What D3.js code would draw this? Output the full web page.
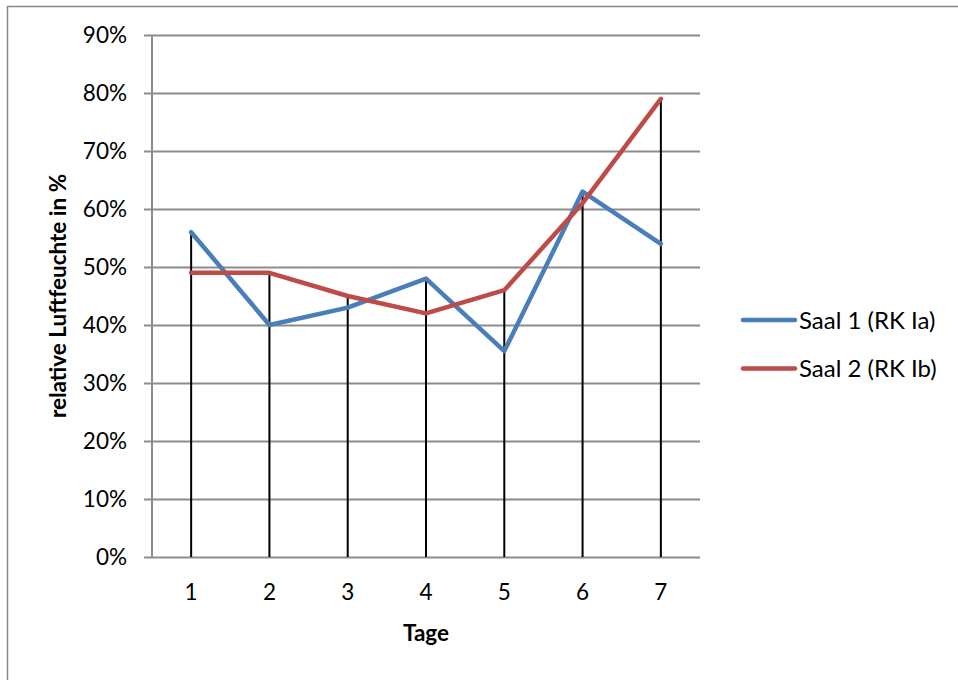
<!DOCTYPE html>
<html><head><meta charset="utf-8">
<script src="https://cdn.jsdelivr.net/npm/d3@7"></script>
<style>body{margin:0;background:#fff}svg{display:block}text{font-family:Lato,"Open Sans",sans-serif}</style>
</head><body><svg id="c" width="958" height="680"></svg>
<script>
const categories = ["1","2","3","4","5","6","7"];
const saal1 = [0.56, 0.40, 0.43, 0.48, 0.355, 0.63, 0.54];
const saal2 = [0.49, 0.49, 0.45, 0.42, 0.46, 0.61, 0.79];
const seriesNames = ["Saal 1 (RK Ia)", "Saal 2 (RK Ib)"];
const seriesColors = ["#4a7ebb", "#be4b48"];
const yTicks = [0,0.1,0.2,0.3,0.4,0.5,0.6,0.7,0.8,0.9];

const svg = d3.select("#c");
svg.append("rect").attr("x",7.5).attr("y",6.5).attr("width",1000).attr("height",1000)
  .attr("fill","none").attr("stroke","#868686").attr("stroke-width",1.5);

const L=152,R=700,T=35,B=557;
const x = d3.scaleBand().domain(categories).range([L,R]);
const y = d3.scaleLinear().domain([0,0.9]).range([B,T]);
const grid="#8c8c8c";

svg.append("g").selectAll("line").data(yTicks).join("line")
  .attr("x1",L-8).attr("x2",R).attr("y1",d=>Math.round(y(d))+0.5).attr("y2",d=>Math.round(y(d))+0.5)
  .attr("stroke",grid).attr("stroke-width",2);
svg.append("line").attr("x1",L).attr("x2",L).attr("y1",T).attr("y2",B).attr("stroke",grid).attr("stroke-width",2);

svg.append("g").selectAll("text").data(yTicks).join("text")
  .attr("x",127).attr("y",d=>y(d)).attr("dy","0.36em").attr("text-anchor","end")
  .attr("font-size",22.5).attr("fill","#000").text(d3.format(".0%"));
const cx = c => x(c)+x.bandwidth()/2;
svg.append("g").selectAll("text").data(categories).join("text")
  .attr("x",cx).attr("y",600).attr("text-anchor","middle").attr("font-size",22.5).text(d=>d);

svg.append("g").selectAll("line").data(categories).join("line")
  .attr("x1",cx).attr("x2",cx).attr("y1",(d,i)=>y(Math.max(saal1[i],saal2[i]))).attr("y2",B)
  .attr("stroke","#000").attr("stroke-width",2);

const line = d3.line().x((d,i)=>cx(categories[i])).y(d=>y(d));
[saal1,saal2].forEach((s,k)=>{
  svg.append("path").attr("d",line(s)).attr("fill","none").attr("stroke",seriesColors[k])
    .attr("stroke-width",4.5).attr("stroke-linejoin","round").attr("stroke-linecap","round");
});

svg.append("text").attr("x",426).attr("y",641).attr("text-anchor","middle").attr("font-size",22.5)
  .attr("font-weight","bold").text("Tage");
svg.append("text").attr("transform","translate(66,296) rotate(-90)").attr("text-anchor","middle")
  .attr("font-size",22.5).attr("font-weight","bold").text("relative Luftfeuchte in %");

seriesNames.forEach((n,k)=>{
  const ly = 320 + k*48.5;
  svg.append("line").attr("x1",743).attr("x2",795).attr("y1",ly).attr("y2",ly)
    .attr("stroke",seriesColors[k]).attr("stroke-width",4.5).attr("stroke-linecap","round");
  svg.append("text").attr("x",799).attr("y",ly).attr("dy","0.36em").attr("font-size",24).text(n);
});
</script></body></html>
